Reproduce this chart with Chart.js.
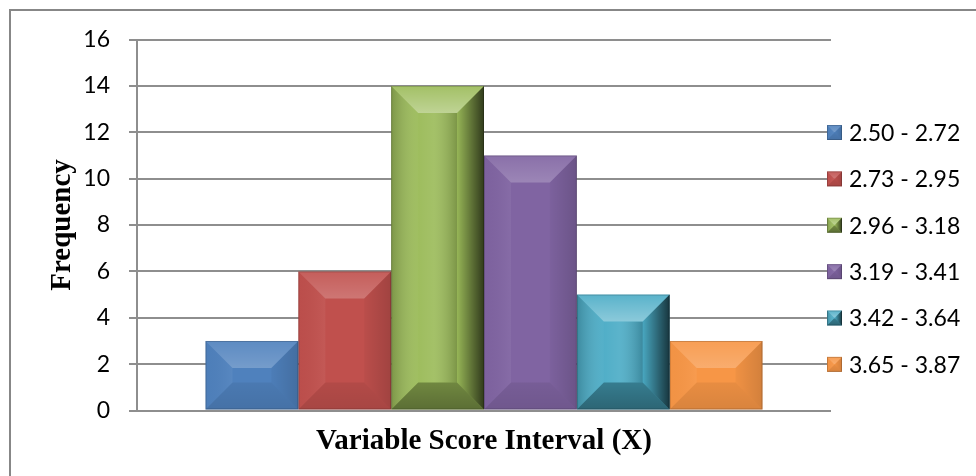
<!DOCTYPE html>
<html>
<head>
<meta charset="utf-8">
<script src="https://cdn.jsdelivr.net/npm/chart.js@4/dist/chart.umd.min.js"></script>
<style>
  html, body { margin: 0; padding: 0; background: #ffffff; }
  #wrap { width: 976px; height: 476px; position: relative; }
  canvas { display: block; }
</style>
</head>
<body>
<div id="wrap"><canvas id="chart" width="976" height="476"></canvas></div>
<script>
// Score intervals (one series each) and their frequencies
const intervals = ['2.50 - 2.72', '2.73 - 2.95', '2.96 - 3.18', '3.19 - 3.41', '3.42 - 3.64', '3.65 - 3.87'];
const frequencies = [3, 6, 14, 11, 5, 3];
const yTickValues = [0, 2, 4, 6, 8, 10, 12, 14, 16];
const categories = [''];

// Series fill colours and how deep the bevel shading goes for each
const barColors = ['#4f81bd', '#c0504d', '#9bbb59', '#8064a2', '#4bacc6', '#f79646'];
const shadeStrength = [0.04, 0.05, 0.4, 0.05, 0.4, 0.04];

const GRID = '#8e8e8e';
const TICK_FONT = { family: 'Lato, "Open Sans", sans-serif', size: 23 };
const TITLE_FONT = { family: '"Liberation Serif", "Times New Roman", serif', size: 29, weight: 'bold' };

// Bevelled fill: top/left/right/bottom facets over a flat base
function drawBevel(ctx, L, T, R, B, b, k) {
  const poly = (pts, fill) => {
    ctx.beginPath();
    ctx.moveTo(pts[0][0], pts[0][1]);
    for (let i = 1; i < pts.length; i++) ctx.lineTo(pts[i][0], pts[i][1]);
    ctx.closePath();
    ctx.fillStyle = fill;
    ctx.fill();
  };
  let g;
  // inner face: a soft cylinder for the strongly shaded series
  if (k > 0.2) {
    g = ctx.createLinearGradient(L + b, 0, R - b, 0);
    g.addColorStop(0, 'rgba(255,255,255,0.03)');
    g.addColorStop(0.4, 'rgba(255,255,255,0.09)');
    g.addColorStop(1, 'rgba(0,0,0,0.2)');
    ctx.fillStyle = g;
    ctx.fillRect(L + b, T + b, (R - L) - 2 * b, (B - T) - 2 * b);
  }
  // top facet
  g = ctx.createLinearGradient(0, T, 0, T + b);
  g.addColorStop(0, 'rgba(255,255,255,0.08)');
  g.addColorStop(1, 'rgba(255,255,255,' + (0.2 + k * 0.4) + ')');
  poly([[L, T], [R, T], [R - b, T + b], [L + b, T + b]], g);
  // left facet
  g = ctx.createLinearGradient(L, 0, L + b, 0);
  g.addColorStop(0, 'rgba(0,0,0,' + (0.0 + k * 0.5) + ')');
  g.addColorStop(1, 'rgba(255,255,255,0.05)');
  poly([[L, T], [L + b, T + b], [L + b, B - b], [L, B]], g);
  // right facet
  g = ctx.createLinearGradient(R - b, 0, R, 0);
  g.addColorStop(0, 'rgba(0,0,0,0.03)');
  g.addColorStop(1, 'rgba(0,0,0,' + (0.09 + k * 1.5) + ')');
  poly([[R, T], [R, B], [R - b, B - b], [R - b, T + b]], g);
  // bottom facet
  g = ctx.createLinearGradient(0, B - b, 0, B);
  g.addColorStop(0, 'rgba(0,0,0,' + (0.04 + k * 0.6) + ')');
  g.addColorStop(1, 'rgba(0,0,0,' + (0.09 + k * 0.8) + ')');
  poly([[L, B], [L + b, B - b], [R - b, B - b], [R, B]], g);
  // thin edge
  ctx.strokeStyle = 'rgba(0,0,0,0.18)';
  ctx.lineWidth = 1;
  ctx.strokeRect(L + 0.5, T + 0.5, R - L - 1, B - T - 1);
}

const bevelPlugin = {
  id: 'bevelBars',
  afterDatasetsDraw(chart) {
    const ctx = chart.ctx;
    ctx.save();
    chart.data.datasets.forEach((ds, i) => {
      const meta = chart.getDatasetMeta(i);
      meta.data.forEach(el => {
        const p = el.getProps(['x', 'y', 'base', 'width'], true);
        const L = p.x - p.width / 2, R = p.x + p.width / 2;
        const T = Math.min(p.y, p.base), B = Math.max(p.y, p.base);
        const b = Math.min(27, (R - L) / 2, (B - T) / 2);
        drawBevel(ctx, L, T, R, B, b, shadeStrength[i]);
      });
    });
    ctx.restore();
  }
};

// Legend column on the right, one bevelled swatch per series
const legendLayout = { x: 827, top: 132.5, step: 46.375, box: 15, gap: 7 };
const legendPlugin = {
  id: 'sideLegend',
  afterDraw(chart) {
    const ctx = chart.ctx;
    const o = legendLayout;
    ctx.save();
    chart.data.datasets.forEach((ds, i) => {
      const cy = o.top + i * o.step;
      const L = o.x, T = cy - o.box / 2, R = L + o.box, B = T + o.box;
      ctx.fillStyle = ds.backgroundColor;
      ctx.fillRect(L, T, o.box, o.box);
      drawBevel(ctx, L, T, R, B, o.box / 2 - 0.5, shadeStrength[i]);
      ctx.fillStyle = '#000';
      ctx.font = TICK_FONT.size + 'px ' + TICK_FONT.family;
      ctx.textAlign = 'left';
      ctx.textBaseline = 'middle';
      ctx.fillText(ds.label, R + o.gap, cy + 1);
    });
    ctx.restore();
  }
};

// Outer frame lines (top and left edges)
const framePlugin = {
  id: 'frame',
  afterDraw(chart) {
    const ctx = chart.ctx;
    ctx.save();
    ctx.fillStyle = '#878787';
    ctx.fillRect(9, 9, 967, 2);
    ctx.fillRect(9, 9, 2, 467);
    ctx.restore();
  }
};

new Chart(document.getElementById('chart'), {
  type: 'bar',
  data: {
    labels: categories,
    datasets: intervals.map((label, i) => ({
      label: label,
      data: [frequencies[i]],
      backgroundColor: barColors[i],
      borderWidth: 0
    }))
  },
  options: {
    responsive: false,
    animation: false,
    events: [],
    categoryPercentage: 0.8026,
    barPercentage: 1,
    layout: { padding: { top: 39.5, right: 145, bottom: 0, left: 0 } },
    plugins: {
      legend: { display: false },
      tooltip: { enabled: false }
    },
    scales: {
      x: {
        ticks: { display: false },
        grid: { display: false, drawTicks: false },
        border: { display: false },
        title: {
          display: true,
          text: 'Variable Score Interval (X)',
          color: '#000',
          font: TITLE_FONT,
          padding: { top: 0, bottom: 17 }
        },
        afterFit(scale) { scale.height = 65.5; }
      },
      y: {
        min: 0,
        max: 16,
        afterBuildTicks(scale) { scale.ticks = yTickValues.map(v => ({ value: v })); },
        ticks: { color: '#000', font: TICK_FONT, padding: 19 },
        grid: { color: GRID, lineWidth: 2, tickLength: 8, drawTicks: true, tickColor: GRID },
        border: { color: GRID, width: 2 },
        title: {
          display: true,
          text: 'Frequency',
          color: '#000',
          font: TITLE_FONT,
          padding: { top: 45, bottom: 0 }
        },
        afterFit(scale) { scale.width = 137; }
      }
    }
  },
  plugins: [bevelPlugin, legendPlugin, framePlugin]
});
</script>
</body>
</html>
